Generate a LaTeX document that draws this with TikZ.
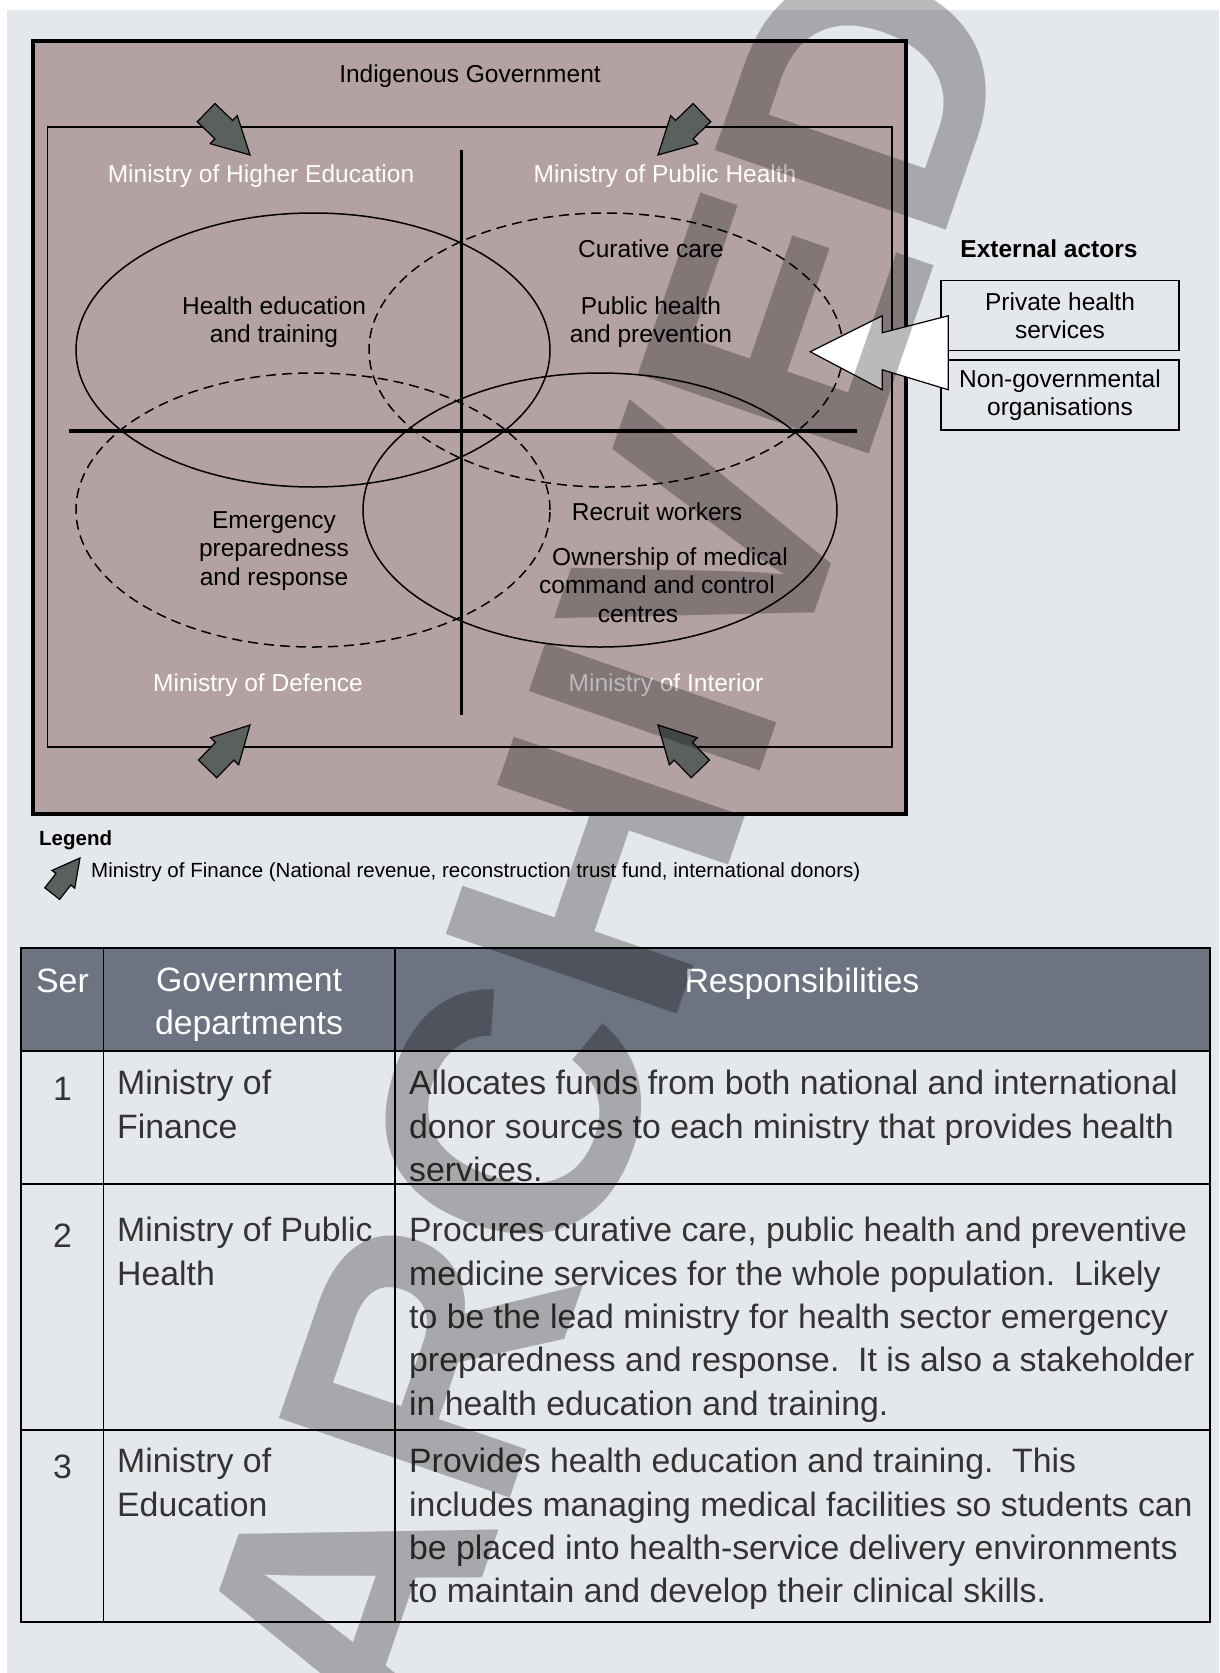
\documentclass[tikz,border=0pt]{standalone}
\usepackage{fontspec}
\setmainfont{Liberation Sans}
\usetikzlibrary{calc}

\definecolor{pagebg}{HTML}{E4E7EB}
\definecolor{govbrown}{HTML}{B4A2A2}
\definecolor{fundgray}{HTML}{5A605E}
\definecolor{headslate}{HTML}{6D7381}
\definecolor{bodyink}{HTML}{333333}

\newcommand\dgsize{\fontsize{24.5}{28.3}\selectfont}
\newcommand\tabsize{\fontsize{33.8}{43.4}\selectfont}
\newcommand\legsize{\fontsize{20.5}{24}\selectfont}

\tikzset{
  pics/fundarrow/.style={code={
    \draw[fill=fundgray, line width=1.2pt] (0pt,0pt) -- (-36.5pt,19.5pt) -- (-36.5pt,12.7pt)
      -- (-61pt,12.7pt) -- (-61pt,-12.7pt) -- (-36.5pt,-12.7pt) -- (-36.5pt,-19.5pt) -- cycle;
  }},
  svcdash/.style={dash pattern=on 10pt off 6pt}
}

\begin{document}
\begin{tikzpicture}[x=1pt, y=-1pt,
    dgtext/.style={font=\dgsize, align=center, inner sep=0},
    mintext/.style={dgtext, text=white},
    actorbox/.style={dgtext, draw, line width=1.5pt, minimum width=238pt, minimum height=70pt},
    tabtext/.style={font=\tabsize, align=left, inner sep=0, text=bodyink, execute at begin node=\strut}]

    % page
    \fill[white] (0,0) rectangle (1219,1673);
    \fill[pagebg] (7,10) rectangle (1219,1673);
    \useasboundingbox (0,0) rectangle (1219,1673);

    % government frame
    \draw[fill=govbrown, line width=4pt] (33,41) rectangle (906,814);
    \draw[line width=1.5pt] (47.5,127) rectangle (892,747);
    \node[dgtext] (gov) at (470,76) {Indigenous Government};

    % quadrants
    \draw[line width=3pt] (461,150) -- (461,715);
    \draw[line width=3.5pt] (69,431) -- (857,431);

    % service areas
    \foreach \cx/\cy/\ls in {313/350/solid, 606/350/svcdash, 313/510/svcdash, 600/510/solid}
    \draw[line width=1.5pt, \ls] (\cx,\cy) ellipse [x radius=237pt, y radius=137pt];

    % ministries
    \node[mintext] (mhe) at (261,176) {Ministry of Higher Education};
    \node[mintext] (mph) at (665,176) {Ministry of Public Health};
    \node[mintext] (mdef) at (258,685) {Ministry of Defence};
    \node[mintext] (mint) at (666,685) {Ministry of Interior};

    % roles
    \node[dgtext] (hedu) at (274,322) {Health education\\and training};
    \node[dgtext] (cure) at (651,249) {Curative care};
    \node[dgtext] (pubh) at (651,322) {Public health\\and prevention};
    \node[dgtext] (emer) at (274,551) {Emergency\\preparedness\\and response};
    \node[dgtext] (recr) at (657,512) {Recruit workers};
    \node[dgtext] (owns) at (657,585) {\hspace*{26pt}Ownership of medical\\command and control\\centres\hspace*{38pt}};

    % funding
    \foreach \tx/\ty/\a in {250/155/-44, 658/155/-136, 250/725/46, 658/725/134}
    \pic[rotate=\a] at (\tx,\ty) {fundarrow};

    % external actors
    \node[dgtext, font=\dgsize\bfseries] (ext) at (1049,249) {External actors};
    \node[actorbox] (pvt) at (1060,315.5) {Private health\\services};
    \node[actorbox] (ngo) at (1060,395) {Non-governmental\\organisations};
    \coordinate (actors) at ($(pvt.south west)!.5!(ngo.north west)$);
    \draw[fill=white, line width=1.2pt, shift={(actors)}] (-130,-3.5) -- (-58,-39.5) -- (-58,-22.5)
      -- (8,-39.5) -- (8,34.5) -- (-58,14.5) -- (-58,34.5) -- cycle;

    % legend
    \node[anchor=west, inner sep=0, font=\legsize\bfseries] (leg) at (39,840) {Legend};
    \pic[rotate=52, scale=.74] at (80,858) {fundarrow};
    \node[anchor=west, inner sep=0, font=\legsize] (legtxt) at (91,872)
      {Ministry of Finance (National revenue, reconstruction trust fund, international donors)};

    % table
    \fill[headslate] (21,948) rectangle (1210,1051);
    \foreach \y in {1051,1184,1430}
    \draw[line width=2.5pt] (21,\y) -- (1210,\y);
    \foreach \x in {103.5,395}
    \draw[line width=1.3pt] (\x,948) -- (\x,1622);
    \draw[line width=2.5pt] (21,948) rectangle (1210,1622);

    \node[tabtext, text=white, anchor=north] (ser) at (62.5,961.5) {Ser};
    \node[tabtext, text=white, align=center, anchor=north] (dept) at (249,967.5) {Government\\departments};
    \node[tabtext, text=white, anchor=north] (resp) at (802,961.5) {Responsibilities};

    \foreach \n/\y/\dept/\resp in {
      1/1070/{Ministry of\\Finance}/{Allocates funds from both national and international\\donor sources to each ministry that provides health\\services.},
      2/1217/{Ministry of Public\\Health}/{Procures curative care, public health and preventive\\medicine services for the whole population.\ \ Likely\\to be the lead ministry for health sector emergency\\preparedness and response.\ \ It is also a stakeholder\\in health education and training.},
      3/1448/{Ministry of\\Education}/{Provides health education and training.\ \ This\\includes managing medical facilities so students can\\be placed into health-service delivery environments\\to maintain and develop their clinical skills.}} {
      \node[tabtext, anchor=north] (ser-\n) at (62.5,\y) {\n};
      \node[tabtext, anchor=north west] (dept-\n) at (117,\y) {\dept};
      \node[tabtext, anchor=north west] (resp-\n) at (409,\y) {\resp};
    }

    % archive stamp
    \node[rotate=71, inner sep=0, text=black, text opacity=.27,
      font=\fontsize{355}{355}\selectfont\bfseries] (stamp) at (605,847) {ARCHIVED};
\end{tikzpicture}
\end{document}
